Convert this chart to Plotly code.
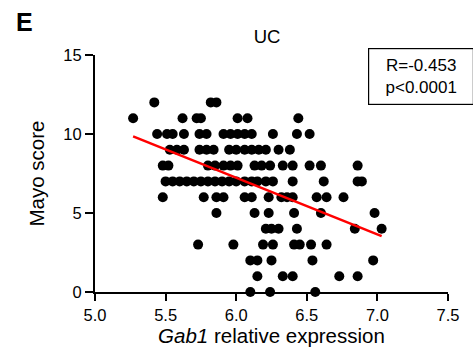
import numpy as np
import plotly.graph_objects as go

# Mayo score rows and Gab1 relative expression values
scores = [12, 11, 10, 9, 8, 7, 6, 5, 4, 3, 2, 1, 0]
gab1_by_score = [
    [5.42, 5.82, 5.86],
    [5.27, 5.62, 5.72, 5.75, 6.01, 6.08, 6.44],
    [5.44, 5.51, 5.55, 5.63, 5.74, 5.79, 5.91, 5.96, 6.01, 6.06, 6.11, 6.26, 6.43, 6.52],
    [5.53, 5.58, 5.63, 5.74, 5.79, 5.84, 5.95, 6.00, 6.06, 6.11, 6.16, 6.21, 6.30, 6.38],
    [5.48, 5.52, 5.80, 5.85, 5.91, 5.96, 6.01, 6.13, 6.18, 6.24, 6.33, 6.40, 6.52, 6.60, 6.86],
    [5.50, 5.55, 5.60, 5.65, 5.70, 5.75, 5.80, 5.85, 5.90, 5.95, 6.00, 6.06, 6.11, 6.15,
     6.21, 6.26, 6.40, 6.62, 6.86, 6.89],
    [5.48, 5.77, 5.86, 5.91, 6.06, 6.11, 6.23, 6.32, 6.36, 6.40, 6.57, 6.64, 6.76],
    [5.86, 6.13, 6.23, 6.41, 6.60, 6.98],
    [6.21, 6.25, 6.30, 6.43, 6.84, 7.03],
    [5.73, 5.98, 6.19, 6.26, 6.41, 6.45, 6.53, 6.64],
    [6.10, 6.15, 6.25, 6.54, 6.97],
    [6.15, 6.33, 6.40, 6.73, 6.86],
    [6.10, 6.24, 6.56],
]
x_ticks = [5.0, 5.5, 6.0, 6.5, 7.0, 7.5]
y_ticks = [0, 5, 10, 15]
stat_text = "R=-0.453<br>p<0.0001"

xs, ys = [], []
for s, vals in zip(scores, gab1_by_score):
    for v in vals:
        xs.append(v)
        ys.append(s)
xs = np.array(xs)
ys = np.array(ys)

slope, intercept = np.polyfit(xs, ys, 1)
fit_x = np.array([xs.min(), xs.max()])
fit_y = slope * fit_x + intercept

FONT = "Liberation Sans, Arial, sans-serif"

fig = go.Figure()
fig.add_trace(go.Scatter(
    x=xs, y=ys, mode="markers",
    marker=dict(color="black", size=10, line=dict(width=0)),
    cliponaxis=False, showlegend=False,
))
fig.add_trace(go.Scatter(
    x=fit_x, y=fit_y, mode="lines",
    line=dict(color="#ff0000", width=2.5),
    cliponaxis=False, showlegend=False,
))

fig.update_layout(
    width=473, height=354,
    margin=dict(l=95, r=25, t=55, b=62),
    paper_bgcolor="white", plot_bgcolor="white",
    font=dict(family=FONT, color="black", size=16),
    title=dict(text="UC", x=267 / 473, xanchor="center",
               y=1 - 37 / 354, yanchor="middle",
               font=dict(size=18.5, family=FONT)),
)
fig.update_xaxes(
    range=[5.0, 7.5], tickvals=x_ticks, ticktext=[f"{t:.1f}" for t in x_ticks],
    showgrid=False, zeroline=False,
    showline=True, linecolor="black", linewidth=2,
    ticks="outside", ticklen=7, tickwidth=2, tickcolor="black",
    tickfont=dict(size=16.5, family=FONT),
    title=dict(text="<i>Gab1</i> relative expression", standoff=4,
               font=dict(size=20.5, family=FONT)),
)
fig.update_yaxes(
    range=[0, 15], tickvals=y_ticks,
    showgrid=False, zeroline=False,
    showline=True, linecolor="black", linewidth=2,
    ticks="outside", ticklen=8, tickwidth=2, tickcolor="black",
    tickfont=dict(size=16.5, family=FONT),
    title=dict(text="Mayo score", standoff=13,
               font=dict(size=20.5, family=FONT)),
)

fig.add_annotation(
    text=stat_text, xref="paper", yref="paper",
    x=1.0, xanchor="left", xshift=-80, y=1 + 7 / 237, yanchor="top",
    showarrow=False, align="center",
    font=dict(size=17, family=FONT),
    bordercolor="black", borderwidth=1.2, borderpad=7, bgcolor="white",
    width=90,
)
fig.add_annotation(
    text="<b>E</b>", xref="paper", yref="paper",
    x=-95 / 353, xanchor="left", xshift=14,
    y=1 + 33.5 / 237, yanchor="middle",
    showarrow=False, font=dict(size=25, family=FONT),
)

fig.write_html("out.html")
